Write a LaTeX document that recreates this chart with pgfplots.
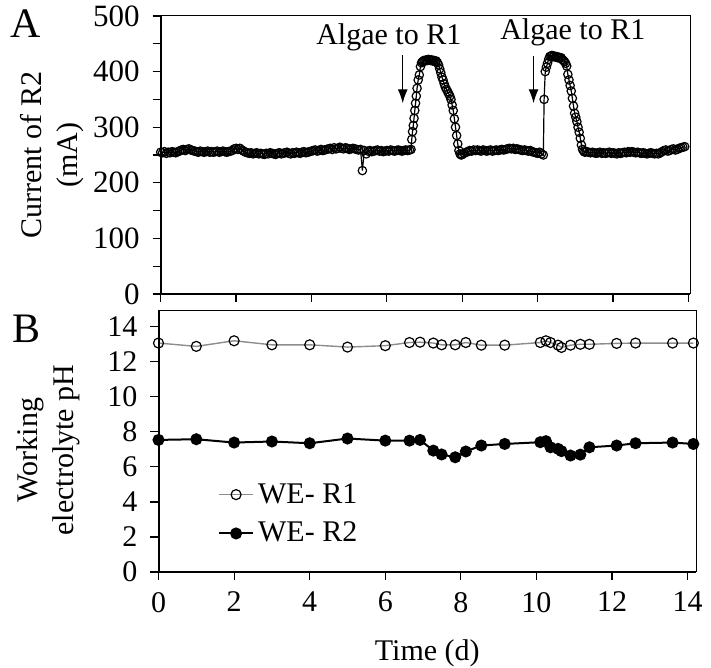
\documentclass[border=0pt]{standalone}
\usepackage{fontspec}
\setmainfont{Liberation Serif}
\usepackage{pgfplots}
\pgfplotsset{compat=1.18}
\usetikzlibrary{arrows.meta}
\definecolor{rone}{rgb}{0.55,0.55,0.55}
\begin{document}
\begin{tikzpicture}[font=\fontsize{15}{18}\selectfont]
\useasboundingbox (0,0) rectangle (355.5pt,334pt);
\pgfplotsset{
  common/.style={
    scale only axis,
    /pgf/number format/assume math mode=true,
    axis line style={line width=0.5pt},
    tick align=outside,
    major tick length=4pt,
    minor tick length=4pt,
    every tick/.style={black,line width=0.6pt},
    xtick pos=bottom, ytick pos=left,
    xmin=0,
    xtick={0,2,...,14},
    clip=false,
    xticklabel shift=2.5pt,
    yticklabel shift=3pt,
    after end axis/.code={\draw[line width=1pt] (rel axis cs:0,1) -- (rel axis cs:0,0) -- (rel axis cs:1,0);},
  }
}
% ---------------- Panel A ----------------
\begin{axis}[common,
  at={(80.35pt,187pt)}, anchor=south west,
  width=264.65pt, height=139pt,
  xmax=14.04, ymin=0, ymax=500,
  ytick={0,100,...,500}, minor ytick={50,150,...,450},
  yticklabel style={font=\fontsize{15.5}{18}\selectfont},
  xticklabels={},
  ylabel={Current of R2\\(mA)},
  ylabel style={align=center, at={(axis description cs:-0.205,0.5)}, anchor=center},
]
\addplot[black, line width=0.6pt, mark=o, mark size=2.1pt, mark options={fill=white, line width=0.6pt}] coordinates {
(0.00,255)(0.05,254)(0.10,256)(0.15,253)(0.20,255)(0.25,254)(0.30,256)(0.35,255)(0.40,254)(0.45,256)(0.50,257)
(0.55,259)(0.60,260)(0.65,258)(0.70,260)(0.75,261)(0.80,259)(0.85,258)
(0.90,257)(0.95,256)(1.00,255)(1.05,257)(1.10,256)(1.15,255)(1.20,256)(1.25,257)(1.30,255)(1.35,256)(1.40,255)(1.45,256)(1.50,257)(1.55,255)(1.60,256)(1.65,257)(1.70,256)(1.75,255)(1.80,256)(1.85,257)(1.90,258)
(1.95,261)(2.00,262)(2.05,260)(2.10,262)(2.15,259)(2.20,257)
(2.25,255)(2.30,254)(2.35,253)(2.40,254)(2.45,252)(2.50,253)(2.55,254)(2.60,252)(2.65,253)(2.70,252)(2.75,251)(2.80,253)(2.85,252)(2.90,254)(2.95,253)(3.00,252)(3.05,251)(3.10,253)(3.15,254)(3.20,252)(3.25,253)(3.30,254)(3.35,255)(3.40,253)(3.45,252)(3.50,254)(3.55,253)(3.60,255)(3.65,254)(3.70,253)(3.75,255)(3.80,256)(3.85,254)(3.90,255)(3.95,256)(4.00,257)
(4.05,258)(4.10,259)(4.15,257)(4.20,258)(4.25,260)(4.30,258)(4.35,259)(4.40,260)
(4.45,261)(4.50,262)(4.55,260)(4.60,263)(4.65,261)(4.70,262)(4.75,264)(4.80,262)(4.85,261)(4.90,263)(4.95,262)(5.00,260)(5.05,261)(5.10,262)(5.15,261)(5.20,260)(5.25,259)(5.30,260)
(5.35,222)
(5.40,258)(5.45,252)(5.50,257)(5.55,258)(5.60,256)(5.65,257)(5.70,258)(5.75,259)(5.80,257)(5.85,258)(5.90,256)(5.95,257)(6.00,258)(6.05,257)(6.10,259)(6.15,258)(6.20,257)(6.25,258)(6.30,259)(6.35,258)(6.40,257)(6.45,258)(6.50,259)(6.55,258)(6.60,259)(6.64,260)
(6.66,278)(6.68,292)(6.70,303)(6.72,316)(6.74,330)(6.76,343)(6.78,356)(6.80,370)(6.83,385)(6.86,394)(6.89,409)(6.92,416)(6.95,418)(6.98,420)(7.01,419)(7.04,421)(7.07,420)(7.10,422)(7.13,421)(7.16,420)(7.19,421)(7.22,419)(7.25,420)(7.28,418)(7.31,419)(7.34,416)(7.37,412)(7.40,405)(7.43,398)(7.46,390)(7.49,385)(7.52,378)(7.55,372)(7.58,368)(7.61,364)(7.64,360)(7.67,356)(7.70,350)(7.73,340)(7.76,330)(7.79,315)(7.82,300)(7.85,285)(7.88,270)(7.91,258)(7.94,252)(7.97,250)
(8.00,251)(8.05,253)(8.10,255)(8.15,256)(8.20,258)(8.25,257)(8.30,259)(8.35,258)(8.40,259)(8.45,258)(8.50,257)(8.55,259)(8.60,258)(8.65,257)(8.70,258)(8.75,259)(8.80,257)(8.85,258)(8.90,259)(8.95,258)(9.00,259)(9.05,260)(9.10,259)(9.15,260)(9.20,261)(9.25,262)(9.30,261)(9.35,262)(9.40,260)(9.45,261)(9.50,260)(9.55,259)(9.60,258)(9.65,259)(9.70,258)(9.75,257)(9.80,258)(9.85,256)(9.90,255)(9.95,254)(10.00,253)(10.05,255)(10.10,252)(10.15,250)
(10.17,350)(10.20,400)(10.23,408)(10.26,415)(10.29,422)(10.32,427)(10.35,428)(10.38,429)(10.41,427)(10.44,428)(10.47,426)(10.50,427)(10.53,425)(10.56,426)(10.59,424)(10.62,425)(10.65,422)(10.68,420)(10.71,418)(10.74,415)(10.77,410)(10.80,395)(10.83,385)(10.86,375)(10.89,365)(10.92,352)(10.95,338)(10.98,325)(11.01,318)(11.04,310)(11.07,300)(11.10,291)(11.13,280)(11.16,268)(11.19,260)(11.22,257)(11.25,255)
(11.30,256)(11.35,255)(11.40,254)(11.45,255)(11.50,254)(11.55,253)(11.60,254)(11.65,255)(11.70,253)(11.75,254)(11.80,253)(11.85,254)(11.90,255)(11.95,253)(12.00,254)(12.05,253)(12.10,252)(12.15,254)(12.20,253)(12.25,254)(12.30,255)(12.35,254)(12.40,256)(12.45,255)(12.50,256)(12.55,255)(12.60,254)(12.65,255)(12.70,254)(12.75,253)(12.80,254)(12.85,253)(12.90,252)(12.95,253)(13.00,254)(13.05,253)(13.10,252)(13.15,253)(13.20,252)(13.25,254)(13.30,256)(13.35,258)(13.40,259)(13.45,257)(13.50,258)(13.55,260)(13.60,261)(13.65,259)(13.70,260)(13.75,262)(13.80,263)(13.85,264)(13.90,265)
};
\draw[line width=0.6pt, -{Latex[length=7pt,width=5pt]}] (axis cs:6.42,430) -- (axis cs:6.42,343);
\draw[line width=0.6pt, -{Latex[length=7pt,width=5pt]}] (axis cs:9.89,428) -- (axis cs:9.89,343);
\node at (axis cs:6.05,462) {Algae to R1};
\node at (axis cs:10.93,471) {Algae to R1};
\end{axis}
% ---------------- Panel B ----------------
\begin{axis}[common,
  at={(79.25pt,48pt)}, anchor=south west,
  width=268.75pt, height=130.5pt,
  xmax=14.22, ymin=0, ymax=14.9,
  ytick={0,2,...,14},
  xlabel={Time (d)},
  xlabel style={yshift=-7pt},
  ylabel={Working\\electrolyte pH},
  ylabel style={align=center, at={(axis description cs:-0.205,0.467)}, anchor=center},
  legend style={draw=none, fill=none, at={(axis description cs:0.11,0.222)}, anchor=west, row sep=4pt, inner sep=0pt},
  legend cell align=left,
]
\addplot[rone, line width=0.7pt, mark=o, mark size=2.5pt, mark options={black, fill=white, line width=0.6pt}] coordinates {
(0,13.07)(1,12.88)(2,13.2)(3,12.97)(4,12.97)(5,12.84)(6,12.92)(6.64,13.1)(6.92,13.12)(7.27,13.07)(7.49,12.97)(7.85,12.97)(8.13,13.1)(8.54,12.95)(9.16,12.95)(10.1,13.1)(10.25,13.2)(10.37,13.1)(10.57,12.95)(10.66,12.82)(10.9,12.95)(11.16,13.0)(11.4,13.0)(12.12,13.05)(12.62,13.07)(13.6,13.07)(14.15,13.07)
};
\addlegendentry{WE- R1}
\addplot[black, line width=1pt, mark=*, mark size=2.5pt, mark options={black, fill=black}] coordinates {
(0,7.54)(1,7.58)(2,7.39)(3,7.45)(4,7.35)(5,7.62)(6,7.5)(6.64,7.5)(6.92,7.54)(7.27,6.93)(7.49,6.71)(7.85,6.55)(8.13,6.88)(8.54,7.22)(9.16,7.31)(10.1,7.41)(10.25,7.47)(10.37,7.12)(10.57,7.03)(10.66,6.9)(10.9,6.65)(11.16,6.7)(11.4,7.12)(12.12,7.22)(12.62,7.35)(13.6,7.39)(14.15,7.31)
};
\addlegendentry{WE- R2}
\end{axis}
\node[font=\fontsize{21}{25}\selectfont] at (13pt,322pt) {A};
\node[font=\fontsize{21}{25}\selectfont] at (13.5pt,169.5pt) {B};
\end{tikzpicture}
\end{document}
